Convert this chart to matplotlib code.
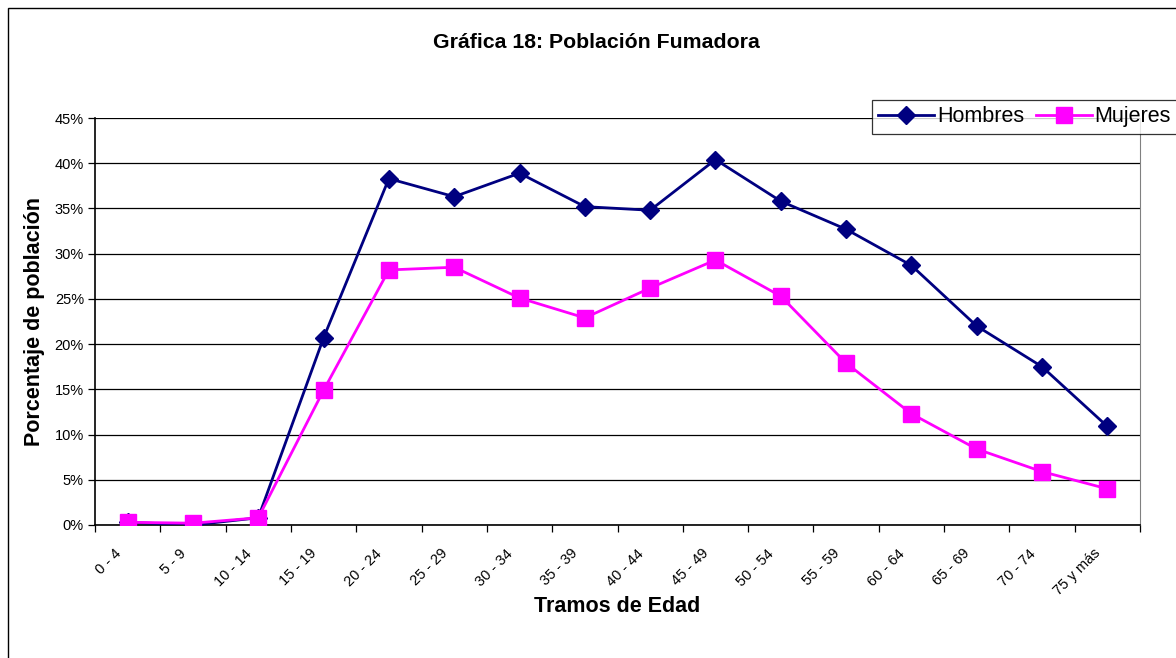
import matplotlib.pyplot as plt
import numpy as np
from matplotlib.patches import Rectangle
from matplotlib.ticker import FixedLocator, PercentFormatter
from matplotlib.transforms import ScaledTranslation

plt.rcParams['font.family'] = ['Liberation Sans', 'DejaVu Sans']

# datos (porcentaje)
tramos = ["0 - 4", "5 - 9", "10 - 14", "15 - 19", "20 - 24", "25 - 29", "30 - 34",
          "35 - 39", "40 - 44", "45 - 49", "50 - 54", "55 - 59", "60 - 64",
          "65 - 69", "70 - 74", "75 y más"]
hombres = [0.3, 0.0, 0.8, 20.7, 38.3, 36.3, 38.9, 35.2, 34.8, 40.4, 35.8, 32.7,
           28.7, 22.0, 17.5, 10.9]
mujeres = [0.3, 0.2, 0.8, 14.9, 28.2, 28.5, 25.1, 22.9, 26.2, 29.3, 25.3, 17.9,
           12.3, 8.4, 5.9, 4.0]

W, H = 1176, 658
fig = plt.figure(figsize=(W / 100, H / 100), dpi=100)
ax = fig.add_axes([95 / W, 1 - 525 / H, 1045 / W, 407 / H])

x = np.arange(len(tramos))
ax.plot(x, hombres, color='#000080', lw=2.0, marker='D', ms=9, label='Hombres', zorder=3)
ax.plot(x, mujeres, color='#FF00FF', lw=2.0, marker='s', ms=11.5, label='Mujeres', zorder=4)

ax.set_xlim(-0.5, len(tramos) - 0.5)
ax.set_ylim(0, 45)
ax.set_yticks(np.arange(0, 46, 5))
ax.yaxis.set_major_formatter(PercentFormatter(decimals=0))
ax.grid(axis='y', color='black', lw=0.9)
ax.set_axisbelow(True)

# ticks entre categorias
ax.set_xticks(x)
ax.set_xticklabels(tramos, rotation=45, ha='right', va='center',
                   rotation_mode='anchor', fontsize=10.5)
ax.tick_params(axis='x', which='major', length=0, pad=19)
desplaza = ScaledTranslation(-9 / 100, 0, fig.dpi_scale_trans)
for lab in ax.get_xticklabels():
    lab.set_transform(lab.get_transform() + desplaza)
ax.xaxis.set_minor_locator(FixedLocator(np.arange(-0.5, len(tramos), 1)))
ax.tick_params(axis='x', which='minor', length=5, width=0.9)
ax.tick_params(axis='y', length=5, width=0.9, labelsize=10.5, pad=3)

ax.spines['right'].set_color('#808080')
ax.spines['top'].set_visible(False)
ax.spines['left'].set_linewidth(1.2)
ax.spines['bottom'].set_linewidth(1.2)

ax.set_xlabel('Tramos de Edad', fontsize=15.5, fontweight='bold', labelpad=-2)
ax.set_ylabel('Porcentaje de población', fontsize=15.5, fontweight='bold', labelpad=7)
fig.text(0.5075, 1 - 43 / H, 'Gráfica 18: Población Fumadora', fontsize=15.3,
         fontweight='bold', ha='center', va='center')

leg = fig.legend(loc='upper left', bbox_to_anchor=(872 / W, 1 - 100 / H), ncol=2,
                 fontsize=15.5, frameon=True, fancybox=False, edgecolor='black',
                 handlelength=2.6, handletextpad=0.15, columnspacing=0.5,
                 borderpad=0.3, borderaxespad=0)
leg.get_frame().set_linewidth(0.9)

# marco exterior
fig.patches.append(Rectangle((8 / W, -0.1), 2, 1 - 8 / H + 0.1, transform=fig.transFigure,
                             fill=False, ec='black', lw=1.0))

fig.savefig('out.png', dpi=100)
